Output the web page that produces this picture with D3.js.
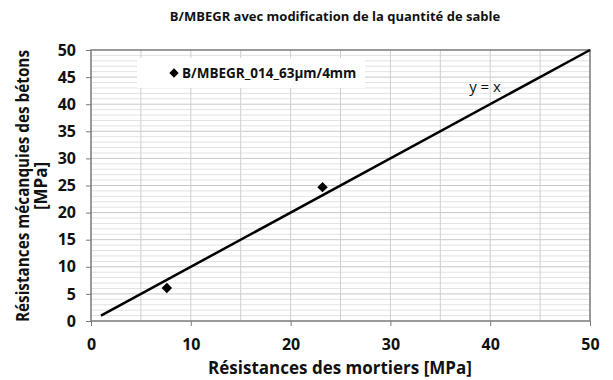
<!DOCTYPE html>
<html><head><meta charset="utf-8">
<script src="https://cdn.jsdelivr.net/npm/d3@7"></script>
<style>body{margin:0;background:#fff}svg{display:block}text{font-family:"Open Sans",sans-serif}</style>
</head><body><svg id="c" width="613" height="380"></svg>
<script>
const seriesName = "B/MBEGR_014_63µm/4mm";
const pointsX = [7.6, 23.2];
const pointsY = [6.1, 24.7];
const lineX = [1, 50];
const lineY = [1, 50];
const xTicks = [0, 10, 20, 30, 40, 50];
const yTicks = [0, 5, 10, 15, 20, 25, 30, 35, 40, 45, 50];

const svg = d3.select("#c");
const x = d3.scaleLinear().domain([0, 50]).range([91, 590]);
const y = d3.scaleLinear().domain([0, 50]).range([321, 50]);

// minor horizontal gridlines
svg.append("g").selectAll("line").data(d3.range(1, 50)).join("line")
  .attr("x1", x(0)).attr("x2", x(50)).attr("y1", d => y(d)).attr("y2", d => y(d))
  .attr("stroke", d => d % 5 === 0 ? "#c8c8c8" : "#e2e2e2").attr("stroke-width", 1);
// vertical gridlines
svg.append("g").selectAll("line").data(d3.range(5, 50, 5)).join("line")
  .attr("x1", d => x(d)).attr("x2", d => x(d)).attr("y1", y(0)).attr("y2", y(50))
  .attr("stroke", "#cfcfcf").attr("stroke-width", 1);

// frame
svg.append("rect").attr("x", x(0)).attr("y", y(50)).attr("width", x(50) - x(0)).attr("height", y(0) - y(50))
  .attr("fill", "none").attr("stroke", "#7a7a7a").attr("stroke-width", 1.5);

// axes
const yAxis = d3.axisLeft(y).tickValues(yTicks).tickSize(5).tickPadding(10);
const gy = svg.append("g").attr("transform", `translate(${x(0)},0)`).call(yAxis);
gy.select(".domain").remove();
gy.selectAll("line").attr("stroke", "#7a7a7a");
gy.selectAll("text").attr("font-size", 16).attr("font-weight", "bold").attr("fill", "#111");

const xAxis = d3.axisBottom(x).tickValues(xTicks).tickSize(5).tickPadding(13);
const gx = svg.append("g").attr("transform", `translate(0,${y(0)})`).call(xAxis);
gx.select(".domain").remove();
gx.selectAll("line").attr("stroke", "#7a7a7a");
gx.selectAll("text").attr("font-size", 16).attr("font-weight", "bold").attr("fill", "#111");

// y = x line
svg.append("line").attr("x1", x(lineX[0])).attr("y1", y(lineY[0])).attr("x2", x(lineX[1])).attr("y2", y(lineY[1]))
  .attr("stroke", "#000").attr("stroke-width", 2.5);
svg.append("text").attr("x", 485).attr("y", 92).attr("text-anchor", "middle")
  .attr("font-size", 15).attr("fill", "#111").text("y = x");

// points
const diamond = d3.symbol().type(d3.symbolDiamond2).size(70);
svg.append("g").selectAll("path").data(pointsX.map((v, i) => [v, pointsY[i]])).join("path")
  .attr("d", diamond).attr("transform", d => `translate(${x(d[0])},${y(d[1])})`).attr("fill", "#000");

// legend
svg.append("rect").attr("x", 137).attr("y", 58).attr("width", 228).attr("height", 30).attr("fill", "#fff");
svg.append("path").attr("d", d3.symbol().type(d3.symbolDiamond2).size(55)).attr("transform", "translate(174,73)").attr("fill", "#000");
svg.append("text").attr("x", 182).attr("y", 78).attr("font-size", 13.5).attr("font-weight", "bold").attr("fill", "#111").text(seriesName);

// titles
svg.append("text").attr("x", 335).attr("y", 21).attr("text-anchor", "middle").attr("font-size", 13)
  .attr("font-weight", "bold").attr("fill", "#111").text("B/MBEGR avec modification de la quantité de sable");
svg.append("text").attr("x", 340).attr("y", 374).attr("text-anchor", "middle").attr("font-size", 17)
  .attr("font-weight", "bold").attr("fill", "#111").text("Résistances des mortiers [MPa]");
const yt = svg.append("text").attr("transform", "translate(29,186) rotate(-90)").attr("text-anchor", "middle")
  .attr("font-size", 17).attr("font-weight", "bold").attr("fill", "#111");
yt.append("tspan").attr("x", 0).attr("dy", 0).attr("textLength", 272).attr("lengthAdjust", "spacingAndGlyphs")
  .text("Résistances mécanquies des bétons");
yt.append("tspan").attr("x", 0).attr("dy", 18).text("[MPa]");
</script></body></html>
